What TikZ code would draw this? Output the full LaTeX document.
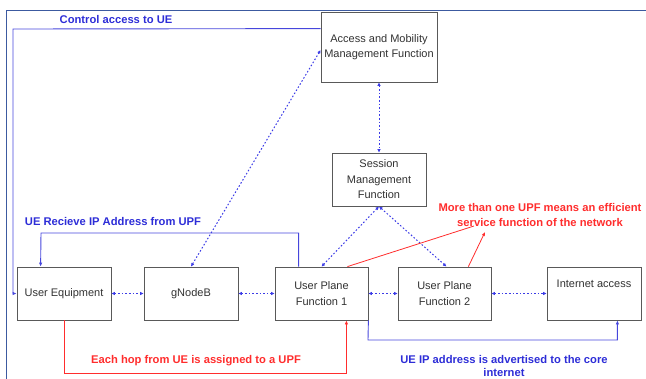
\documentclass[tikz,border=0pt]{standalone}
\usepackage{fontspec}
\setmainfont{Liberation Sans}
\usetikzlibrary{arrows.meta}
\definecolor{lblue}{RGB}{45,45,215}
\definecolor{dblue}{RGB}{60,60,230}
\definecolor{sblue}{RGB}{70,70,220}
\definecolor{lred}{RGB}{255,45,45}
\definecolor{frame}{RGB}{60,90,160}
\definecolor{boxtext}{RGB}{50,50,50}
\tikzset{
  fbox/.style={draw=black!65, line width=0.8pt, fill=white, text=boxtext,
    minimum width=94pt, minimum height=53pt, inner sep=1pt, align=center,
    font=\fontsize{11}{15.5}\selectfont},
  dotc/.style={dblue, line width=1pt, dash pattern=on 1.6pt off 2pt,
    {Latex[length=3.5pt,width=3.5pt]}-{Latex[length=3.5pt,width=3.5pt]}},
  bline/.style={sblue, line width=0.9pt, -{Latex[length=4pt,width=3.5pt]}},
  rline/.style={lred, line width=0.8pt},
  blbl/.style={text=lblue, font=\bfseries\fontsize{11.2}{15}\selectfont, align=center, inner sep=0pt},
  rlbl/.style={text=lred, font=\bfseries\fontsize{11.2}{15}\selectfont, align=center, inner sep=0pt}
}
\begin{document}
\begin{tikzpicture}[x=1pt,y=-1pt]
\useasboundingbox (0,0) rectangle (646,378);
\clip (0,0) rectangle (646,378);
\draw[frame, line width=0.8pt] (6,10) -- (652,10) (6,10) -- (6,390);
% boxes
\node[fbox, minimum width=116pt, minimum height=70pt] (amf) at (379,47) {Access and Mobility\\Management Function};
\node[fbox] (smf) at (379,179.5) {Session\\Management\\Function};
\node[fbox] (ue) at (64,293.5) {User Equipment};
\node[fbox] (gnb) at (191,293.5) {gNodeB};
\node[fbox, minimum width=93pt] (upf1) at (321.5,293.5) {User Plane\\Function 1};
\node[fbox, minimum width=93pt] (upf2) at (444.5,293.5) {User Plane\\Function 2};
\node[fbox] (inet) at (594,293.5) {Internet access\\\strut};
% labels
\node[blbl] (l1) at (116,19) {Control access to UE};
\node[blbl] (l2) at (113,221) {UE Recieve IP Address from UPF};
\node[rlbl] (l3) at (196,361) {Each hop from UE is assigned to a UPF};
\node[rlbl] (l4) at (540,214.5) {More than one UPF means an efficient\\service function of the network};
\node[blbl, anchor=south, font=\bfseries\fontsize{11.2}{13}\selectfont] (l5) at (504,377) {UE IP address is advertised to the core\\internet};
% dotted connectors
\draw[dotc] (ue.east) -- (gnb.west);
\draw[dotc] (gnb.east) -- (upf1.west);
\draw[dotc] (upf1.east) -- (upf2.west);
\draw[dotc] (upf2.east) -- (inet.west);
\draw[dotc] (amf.south) -- (smf.north);
\draw[dotc] (gnb.north) -- ([yshift=-3pt]amf.west);
\draw[dotc] (smf.south) -- (upf1.north);
\draw[dotc] (smf.south) -- ([xshift=2pt]upf2.north);
% blue solid
\coordinate (c1) at (13,29);
\draw[bline] ([yshift=-17pt]amf.north west) -- (c1) |- (ue.west);
\coordinate (c2) at (41,233);
\draw[bline] ([xshift=24pt]upf1.north west) |- (c2) -- ([xshift=24pt]ue.north west);
\coordinate (c3) at (368,340);
\draw[bline] (upf1.south east) -- (c3) -| ([xshift=-24pt]inet.south east);
% red
\coordinate (c4) at (64,373);
\draw[rline, -{Latex[length=4pt,width=3.5pt]}] (ue.south) -- (c4) -| ([xshift=-22pt]upf1.south east);
\coordinate (c5) at (474,226);
\draw[rline] ([xshift=-21pt]upf1.north east) -- (c5);
\coordinate (c6) at (485,232);
\draw[rline, -{Latex[length=4pt,width=3.5pt]}] ([xshift=-23pt]upf2.north east) -- (c6);
\end{tikzpicture}
\end{document}
